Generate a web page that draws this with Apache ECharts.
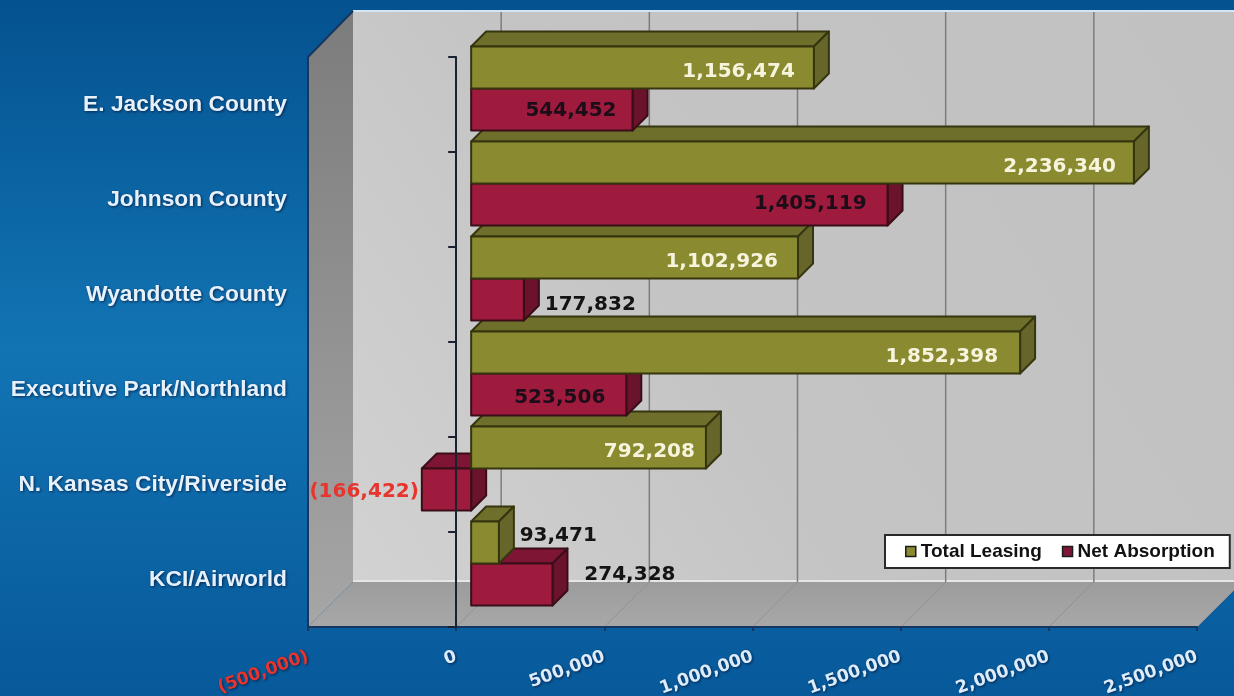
<!DOCTYPE html>
<html>
<head>
<meta charset="utf-8">
<style>html,body{margin:0;padding:0;background:#0a5f9f}#chart{width:1234px;height:696px}</style>
<script src="https://cdn.jsdelivr.net/npm/echarts@6/dist/echarts.min.js"></script>
</head>
<body>
<div id="chart"></div>
<script>
// Submarket leasing activity, drawn as a 3-D style clustered bar chart.
const categories = ['E. Jackson County','Johnson County','Wyandotte County','Executive Park/Northland','N. Kansas City/Riverside','KCI/Airworld'];
const totalLeasing = [1156474, 2236340, 1102926, 1852398, 792208, 93471];
const netAbsorption = [544452, 1405119, 177832, 523506, -166422, 274328];

// Label placement relative to the end of each bar's front face: [dx, dy], right aligned.
const totalLabelShift = [[-19,4],[-18,4],[-20,4],[-22,4],[-11,4],[98,-7]];
const netLabelShift = [[-16,1],[-21,-1],[112,5],[-21,3],[-3,2],[123,-10]];
const netLabelColors = ['#1d0d18','#1d0d18','#141414','#1d0d18','#e8342c','#141414'];
const totalLabelColors = ['#f6f4dc','#f6f4dc','#f6f4dc','#f6f4dc','#f6f4dc','#141414'];

// Projection of the fake third dimension.
const WALL_DEPTH = 45;
const BAR_NEAR_X = 15;
const BAR_NEAR_Y = 16;
const BAR_DEPTH = 15;
const BAR_THICK = 42;

const fmt = v => {
  const s = Math.abs(v).toString().replace(/\B(?=(\d{3})+$)/g, ',');
  return v < 0 ? '(' + s + ')' : s;
};

const olive = {front: '#8a8a30', top: '#6f6f2c', side: '#66662b', edge: '#35350f'};
const crimson = {front: '#9f1b3d', top: '#7f1534', side: '#6b122d', edge: '#3a0e18'};

function barRenderer(palette, side, shifts, labelColors) {
  return function (params, api) {
    const cat = api.value(1);
    const value = api.value(0);
    const base = api.coord([0, cat]);
    const end = api.coord([value, cat]);
    const x0 = base[0] + BAR_NEAR_X;
    const x1 = end[0] + BAR_NEAR_X;
    const mid = base[1] - BAR_NEAR_Y;
    const yTop = side < 0 ? mid - BAR_THICK : mid;
    const yBot = yTop + BAR_THICK;
    const d = BAR_DEPTH;
    const left = Math.min(x0, x1), right = Math.max(x0, x1);
    const z2 = (categories.length - cat) * 4 + (side < 0 ? 1 : 0);
    const border = {stroke: palette.edge, lineWidth: 2, lineJoin: 'round'};
    const poly = (pts, fill) => ({
      type: 'polygon', z2, shape: {points: pts},
      style: Object.assign({fill}, border)
    });
    const labelAt = shifts[params.dataIndex];
    return {
      type: 'group',
      children: [
        poly([[left, yTop], [left + d, yTop - d], [right + d, yTop - d], [right, yTop]], palette.top),
        poly([[right, yTop], [right + d, yTop - d], [right + d, yBot - d], [right, yBot]], palette.side),
        poly([[left, yTop], [right, yTop], [right, yBot], [left, yBot]], palette.front),
        {
          type: 'text', z2: 200,
          style: {
            text: fmt(value),
            x: x1 + labelAt[0],
            y: (yTop + yBot) / 2 + labelAt[1],
            align: 'right', verticalAlign: 'middle',
            font: 'bold 20px "DejaVu Sans"',
            fill: labelColors[params.dataIndex]
          }
        }
      ]
    };
  };
}

// Back wall, side wall, floor and gridlines of the chart box.
function renderBox(params, api) {
  const c = params.coordSys;
  const l = c.x, r = c.x + c.width, t = c.y, b = c.y + c.height;
  const D = WALL_DEPTH;
  const children = [
    {type: 'rect', shape: {x: l + D, y: t - D - 1, width: c.width, height: c.height},
     style: {fill: {type: 'linear', x: 1, y: 0, x2: 0, y2: 1, colorStops: [{offset: 0, color: '#c1c1c1'}, {offset: 0.6, color: '#c4c4c4'}, {offset: 1, color: '#d2d2d2'}]}}},
    {type: 'polygon', shape: {points: [[l, t], [l + D, t - D - 1], [l + D, b - D], [l, b]]},
     style: {fill: {type: 'linear', x: 0, y: 0, x2: 0, y2: 1, colorStops: [{offset: 0, color: '#7c7c7c'}, {offset: 1, color: '#a6a6a6'}]}}},
    {type: 'polygon', shape: {points: [[l, b], [l + D, b - D], [r + D, b - D], [r, b]]},
     style: {fill: {type: 'linear', x: 0, y: 0, x2: 0, y2: 1, colorStops: [{offset: 0, color: '#9c9c9c'}, {offset: 1, color: '#a8a8a8'}]}}},
    {type: 'line', shape: {x1: l + D, y1: b - D - 1, x2: r + D, y2: b - D - 1}, style: {stroke: '#e6e6e6', lineWidth: 2}},
    {type: 'line', shape: {x1: l + D, y1: t - D - 1, x2: r + D, y2: t - D - 1}, style: {stroke: '#d3e6f4', lineWidth: 2}},
    {type: 'polyline', shape: {points: [[l + D, t - D - 1], [l, t], [l, b]]}, style: {stroke: '#17365f', lineWidth: 2, fill: null}}
  ];
  for (let v = 0; v <= 2500000; v += 500000) {
    const x = api.coord([v, 0])[0];
    children.push({type: 'line', shape: {x1: x + D, y1: t - D, x2: x + D, y2: b - D}, style: {stroke: '#7d7d7d', lineWidth: 1.5}});
    children.push({type: 'line', shape: {x1: x, y1: b, x2: x + D, y2: b - D}, style: {stroke: '#919191', lineWidth: 1}});
  }
  return {type: 'group', children};
}

const shadow = {textShadowColor: 'rgba(0,15,50,0.75)', textShadowBlur: 3, textShadowOffsetX: 1, textShadowOffsetY: 1};
const chart = echarts.init(document.getElementById('chart'));
chart.setOption({
  animation: false,
  backgroundColor: {
    type: 'linear', x: 0, y: 0, x2: 0, y2: 1,
    colorStops: [{offset: 0, color: '#04528f'}, {offset: 0.5, color: '#1274b4'}, {offset: 1, color: '#07599a'}]
  },
  grid: {left: 308, top: 57, width: 889, height: 570, outerBoundsMode: 'none'},
  legend: {
    left: 885, top: 535,
    data: ['Total Leasing', 'Net Absorption'],
    backgroundColor: '#ffffff', borderColor: '#2a2a2a', borderWidth: 2,
    padding: [7, 15, 7, 20], itemWidth: 10, itemHeight: 10, itemGap: 20,
    icon: 'rect',
    itemStyle: {borderColor: '#1c1c1c', borderWidth: 1.5},
    textStyle: {fontFamily: '"Liberation Sans"', fontWeight: 'bold', fontSize: 19, color: '#111'}
  },
  xAxis: {
    type: 'value', min: -500000, max: 2500000, interval: 500000, z: 1,
    splitLine: {show: false},
    axisLine: {show: true, onZero: false, lineStyle: {color: '#17365f', width: 2}},
    axisTick: {show: true, length: 4, lineStyle: {color: '#17365f', width: 2}},
    axisLabel: Object.assign({
      rotate: 20, margin: 29, fontFamily: '"DejaVu Sans"', fontWeight: 'bold', fontSize: 17.4,
      formatter: fmt,
      color: v => Number(v) < 0 ? '#e8342c' : '#dcecfb'
    }, shadow)
  },
  yAxis: [
    {
      type: 'category', inverse: true, data: categories, position: 'left',
      axisLine: {show: false, onZero: false}, axisTick: {show: false},
      axisLabel: Object.assign({margin: 21, padding: [3, 0, 0, 0], fontFamily: '"Liberation Sans"', fontWeight: 'bold', fontSize: 22.8, color: '#e6f1fc'}, shadow)
    },
    {
      type: 'category', inverse: true, data: categories, position: 'left', z: 5,
      axisLine: {show: true, onZero: true, lineStyle: {color: '#1a2230', width: 2}},
      axisTick: {show: true, length: 8, lineStyle: {color: '#1a2230', width: 2}},
      axisLabel: {show: false}
    }
  ],
  series: [
    {type: 'custom', name: 'Box', z: 0, silent: true, coordinateSystem: 'cartesian2d', yAxisIndex: 0,
     renderItem: renderBox, data: [[0, 0]], encode: {x: 0, y: 1}},
    {type: 'custom', name: 'Total Leasing', z: 2, coordinateSystem: 'cartesian2d', yAxisIndex: 0,
     itemStyle: {color: olive.front},
     renderItem: barRenderer(olive, -1, totalLabelShift, totalLabelColors),
     data: totalLeasing.map((v, i) => [v, i]), encode: {x: 0, y: 1}},
    {type: 'custom', name: 'Net Absorption', z: 2, coordinateSystem: 'cartesian2d', yAxisIndex: 0,
     itemStyle: {color: crimson.top},
     renderItem: barRenderer(crimson, 1, netLabelShift, netLabelColors),
     data: netAbsorption.map((v, i) => [v, i]), encode: {x: 0, y: 1}}
  ]
});
</script>
</body>
</html>
